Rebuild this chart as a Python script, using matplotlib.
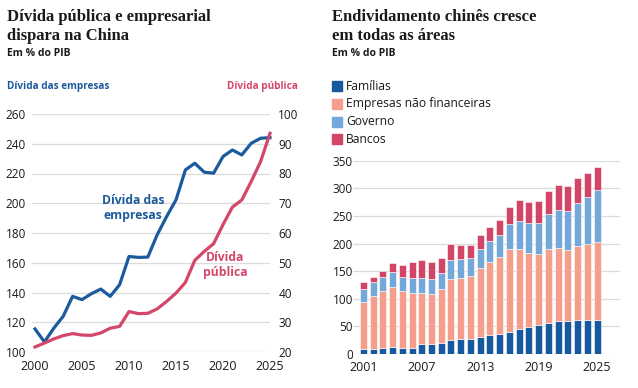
import matplotlib
matplotlib.use("Agg")
import matplotlib.pyplot as plt
import numpy as np

# Left chart: corporate debt (left axis) and public debt (right axis), % of GDP
years_line = list(range(2000, 2026))
corp_debt = [115.5, 106.8, 116, 124, 137.4, 135.2, 139.2, 142.3, 137.4, 145.2,
             164.2, 163.6, 163.8, 178.8, 191, 202.3, 222.4, 226.9, 220.9, 220.2,
             231.4, 235.8, 232.5, 240.3, 243.7, 244.1]
public_debt = [21.7, 23, 24.4, 25.5, 26.2, 25.7, 25.6, 26.4, 28, 28.6,
               33.6, 32.9, 33, 34.5, 37, 39.8, 43.4, 50.8, 53.8, 56.4,
               62.8, 68.7, 71.1, 77.3, 84, 93.5]

# Right chart: stacked debt by sector, % of GDP (cumulative tops)
years_bar = list(range(2001, 2026))
familias = [9, 9.7, 10.9, 12, 10.9, 11.5, 18, 18, 19.3, 24.7, 27.2, 27.2, 30.2,
            33.8, 36.2, 39.2, 44.7, 48.3, 52.5, 56.1, 59.7, 59.7, 61, 61, 61]
empresas_tot = [94.7, 105.6, 114, 122, 114, 110.4, 110.4, 108, 117.7, 135.8, 138.2,
                141.2, 155.7, 166.6, 175.6, 190.7, 189.5, 182.9, 181, 189.5, 191.9,
                187.7, 195.5, 199.8, 203.4]
governo_tot = [117.7, 129.7, 139.4, 148.5, 139.4, 137, 137, 136.4, 146.6, 170.2, 171.4,
               174.4, 190.1, 204, 215.4, 234.8, 240.8, 237.8, 237.8, 252.9, 260.7,
               258.9, 273.4, 283.6, 297]
bancos_tot = [129.7, 140, 150.9, 164.8, 161.7, 166, 169.6, 166.6, 174.4, 198.6, 197.3,
              197.3, 214.8, 229.3, 242.6, 266.7, 278.2, 275.8, 277.6, 295.7, 306,
              304.8, 318, 328.3, 339.2]
series_names = ["Famílias", "Empresas não financeiras", "Governo", "Bancos"]

BLUE = "#1c5a9e"
RED = "#d4466a"
C_FAM = "#17599f"
C_EMP = "#f59e8b"
C_GOV = "#74a8da"
C_BAN = "#d24566"
GRID = "#dcdcdc"
TXT = "#1a1a1a"

plt.rcParams["font.family"] = ["Open Sans", "DejaVu Sans"]

W, H = 638, 388
fig = plt.figure(figsize=(W / 100, H / 100), dpi=100)


def fx(x):
    return x / W


def fy(y):
    return 1 - y / H


def style_axis(ax):
    for s in ax.spines.values():
        s.set_visible(False)
    ax.tick_params(length=0, colors=TXT, labelsize=8.5)


def title(x, lines):
    for i, t in enumerate(lines):
        fig.text(fx(x), fy(21 + 18.5 * i), t, family="Liberation Serif",
                 fontweight="bold", fontsize=12, color=TXT, va="baseline")


# ---------- left chart ----------
ax1 = fig.add_axes([fx(31.7), fy(352), fx(270 - 31.7), (352 - 114) / H])
ax2 = ax1.twinx()
style_axis(ax1)
style_axis(ax2)

ax1.plot(years_line, corp_debt, color=BLUE, lw=2.3, clip_on=False, zorder=3)
ax2.plot(years_line, public_debt, color=RED, lw=2.3, clip_on=False, zorder=3)
ax1.set_xlim(1999.65, 2024.95)
ax1.set_ylim(100, 260)
ax2.set_ylim(20, 100)
ax1.set_yticks(np.arange(100, 261, 20))
ax2.set_yticks(np.arange(20, 101, 10))
ax1.set_xticks([2000, 2005, 2010, 2015, 2020, 2025])
ax1.tick_params(axis="x", pad=6, labelsize=9)
ax1.tick_params(axis="y", pad=4)
ax2.tick_params(axis="y", pad=6)
ax1.grid(axis="y", color=GRID, lw=0.9)
ax1.set_axisbelow(True)

ax1.text(2010.4, 196.8, "Dívida das\nempresas", color=BLUE, fontsize=8.7,
         fontweight="bold", ha="center", va="center", linespacing=1.2)
ax2.text(2020.25, 49.2, "Dívida\npública", color=RED, fontsize=8.7,
         fontweight="bold", ha="center", va="center", linespacing=1.2)

title(7, ["Dívida pública e empresarial", "dispara na China"])
fig.text(fx(7), fy(53), "Em % do PIB", fontsize=7.5, fontweight="bold",
         color=TXT, va="center")
fig.text(fx(7), fy(86), "Dívida das empresas", fontsize=7.2, fontweight="bold",
         color=BLUE, va="center")
fig.text(fx(298), fy(86), "Dívida pública", fontsize=7.2, fontweight="bold",
         color=RED, va="center", ha="right")

# ---------- right chart ----------
ax3 = fig.add_axes([fx(353), fy(354), fx(620 - 353), (354 - 160.7) / H])
style_axis(ax3)
fam = np.array(familias)
emp = np.array(empresas_tot) - fam
gov = np.array(governo_tot) - np.array(empresas_tot)
ban = np.array(bancos_tot) - np.array(governo_tot)
kw = dict(width=0.72, edgecolor="white", linewidth=0.4, zorder=3)
ax3.bar(years_bar, fam, color=C_FAM, **kw)
ax3.bar(years_bar, emp, bottom=fam, color=C_EMP, **kw)
ax3.bar(years_bar, gov, bottom=fam + emp, color=C_GOV, **kw)
ax3.bar(years_bar, ban, bottom=fam + emp + gov, color=C_BAN, **kw)
ax3.set_xlim(1999.94, 2027.36)
ax3.set_ylim(0, 350)
ax3.set_yticks(np.arange(0, 351, 50))
ax3.set_xticks([2001, 2007, 2013, 2019, 2025])
ax3.tick_params(axis="x", pad=5, labelsize=9)
ax3.tick_params(axis="y", pad=0)
ax3.grid(axis="y", color=GRID, lw=0.9)
ax3.set_axisbelow(True)

title(332, ["Endividamento chinês cresce", "em todas as áreas"])
fig.text(fx(332), fy(53), "Em % do PIB", fontsize=7.5, fontweight="bold",
         color=TXT, va="center")

leg_colors = [C_FAM, C_EMP, C_GOV, C_BAN]
leg_y = [86, 104, 121.5, 139]
for name, c, yy in zip(series_names, leg_colors, leg_y):
    fig.patches.append(plt.Rectangle((fx(332), fy(yy + 5)), fx(10), 10 / H,
                                     transform=fig.transFigure, color=c,
                                     figure=fig))
    fig.text(fx(346), fy(yy), name, fontsize=8.7, color=TXT, va="center")

fig.savefig("out.png", dpi=100)
